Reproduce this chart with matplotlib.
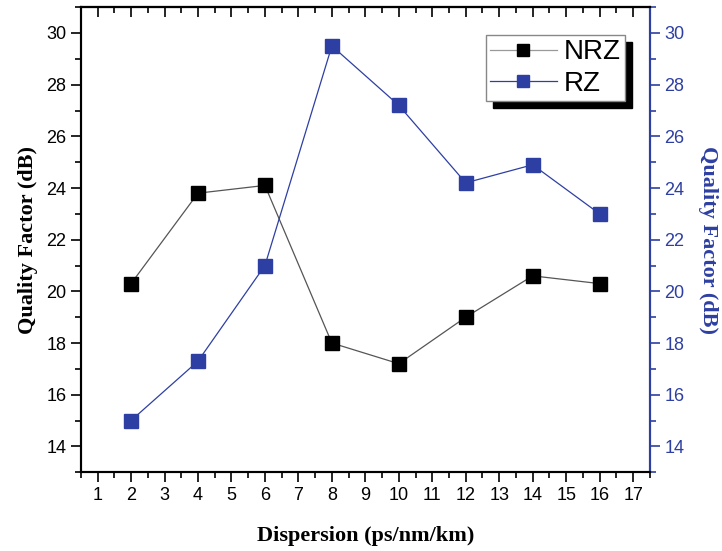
import matplotlib.pyplot as plt
from matplotlib.ticker import MultipleLocator

dispersion = [2, 4, 6, 8, 10, 12, 14, 16]
q_nrz = [20.3, 23.8, 24.1, 18.0, 17.2, 19.0, 20.6, 20.3]
q_rz = [15.0, 17.3, 21.0, 29.5, 27.2, 24.2, 24.9, 23.0]

blue = '#2E3FA3'
plt.rcParams['font.family'] = ['Liberation Sans', 'DejaVu Sans']

fig = plt.figure(figsize=(7.22, 5.51), dpi=100)
ax = fig.add_axes([0.112, 0.143, 0.788, 0.844])
ax2 = ax.twinx()

l1, = ax.plot(dispersion, q_nrz, color='#555555', lw=0.9, marker='s', ms=10,
              mfc='black', mec='black', label='NRZ')
l2, = ax2.plot(dispersion, q_rz, color=blue, lw=0.9, marker='s', ms=10,
               mfc=blue, mec=blue, label='RZ')

for a in (ax, ax2):
    a.set_xlim(0.5, 17.5)
    a.set_ylim(13, 31)
    a.set_yticks(range(14, 31, 2))
    a.yaxis.set_minor_locator(MultipleLocator(1))

ax.set_xticks(range(1, 18))
ax.xaxis.set_minor_locator(MultipleLocator(0.5))

ax.tick_params(axis='x', which='major', direction='out', length=7, width=1.2, labelsize=13)
ax.tick_params(axis='x', which='minor', direction='out', length=4, width=1.2)
ax.tick_params(axis='y', which='major', direction='out', length=7, width=1.2, labelsize=13)
ax.tick_params(axis='y', which='minor', direction='out', length=4, width=1.2)
ax2.tick_params(axis='y', which='major', direction='out', length=7, width=1.2,
                labelsize=13, colors=blue)
ax2.tick_params(axis='y', which='minor', direction='out', length=4, width=1.2, colors=blue)

# top axis: inward ticks, no labels
top = ax.secondary_xaxis('top')
top.set_xticks(range(1, 18))
top.xaxis.set_minor_locator(MultipleLocator(0.5))
top.tick_params(axis='x', which='major', direction='in', length=7, width=1.2, labeltop=False)
top.tick_params(axis='x', which='minor', direction='in', length=4, width=1.2)
top.spines['top'].set_linewidth(1.5)

for s in ax.spines.values():
    s.set_linewidth(1.5)
for s in ax2.spines.values():
    s.set_linewidth(1.5)
ax2.spines['right'].set_color(blue)

ax.set_xlabel('Dispersion (ps/nm/km)', family='Liberation Serif', fontweight='bold',
              fontsize=16, labelpad=16)
ax.set_ylabel('Quality Factor (dB)', family='Liberation Serif', fontweight='bold',
              fontsize=16, labelpad=6)
ax2.set_ylabel('Quality Factor (dB)', family='Liberation Serif', fontweight='bold',
               fontsize=16, color=blue, rotation=270, labelpad=24)

leg = ax2.legend(handles=[l1, l2], loc='upper right', bbox_to_anchor=(0.956, 0.94),
                 fontsize=20, fancybox=False, numpoints=1,
                 shadow={'color': 'black', 'alpha': 1, 'ox': 5, 'oy': -5},
                 edgecolor='#888888', handlelength=2.4, handletextpad=0.25,
                 borderpad=0.15, labelspacing=0.2, markerscale=0.9, borderaxespad=0)
leg.get_frame().set_linewidth(1.0)
leg.get_lines()[0].set_color('#999999')
leg.get_lines()[0].set_markerfacecolor('black')
leg.get_lines()[0].set_markeredgecolor('black')

fig.savefig('out.png', dpi=100)
